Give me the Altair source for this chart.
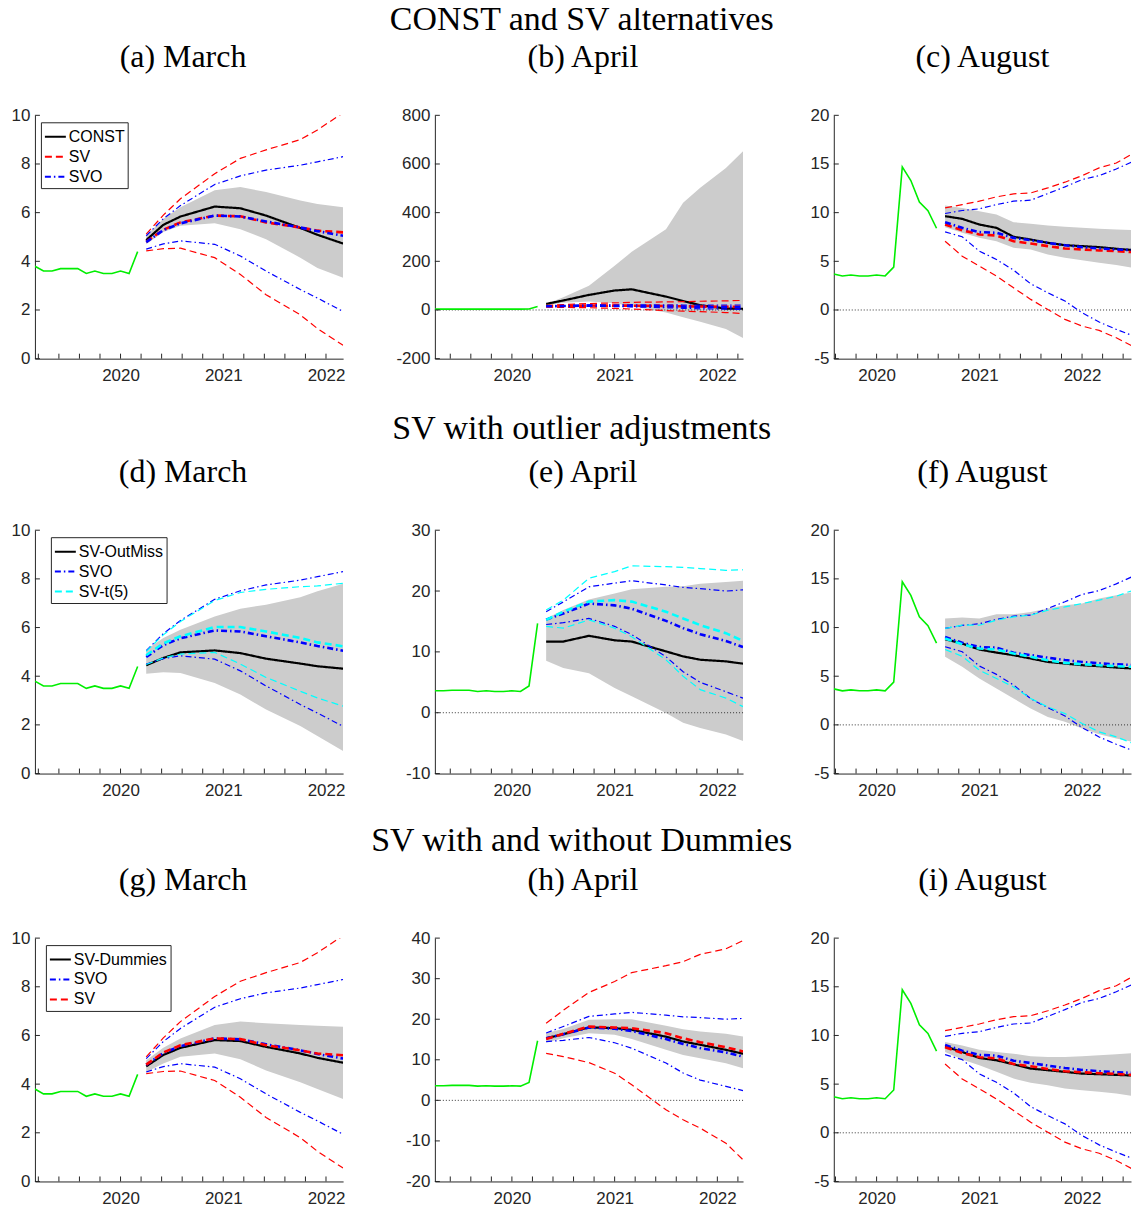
import altair as alt
import pandas as pd
import numpy as np

# ---------------- data ----------------
HIST_START = 2019 + 2 / 12          # March 2019
hist_u = [3.8, 3.6, 3.6, 3.7, 3.7, 3.7, 3.5, 3.6, 3.5, 3.5, 3.6, 3.5, 4.4,
          14.7, 13.3, 11.1, 10.2, 8.4]   # Mar 2019 .. Aug 2020

vintage_mar = 2020 + 2 / 12
vintage_apr = 2020 + 3 / 12
vintage_aug = 2020 + 7 / 12

k_mar = [0, 2, 4, 8, 11, 14, 18, 20, 23]
k_apr = [0, 2, 5, 8, 10, 14, 16, 18, 21, 23]
k_aug = [0, 2, 4, 6, 8, 10, 12, 14, 16, 18, 20, 22, 23]

# ---- March vintage ----
mar_const_med = [4.87, 5.5, 5.84, 6.25, 6.18, 5.88, 5.37, 5.09, 4.73]
mar_const_hi = [5.05, 5.75, 6.22, 6.92, 7.05, 6.85, 6.5, 6.36, 6.22]
mar_const_lo = [4.70, 5.2, 5.46, 5.56, 5.32, 4.91, 4.15, 3.73, 3.32]
mar_sv_med = [4.8, 5.3, 5.6, 5.88, 5.85, 5.6, 5.39, 5.26, 5.19]
mar_sv_hi = [5.12, 5.9, 6.57, 7.6, 8.23, 8.58, 9.0, 9.4, 10.1]
mar_sv_lo = [4.43, 4.52, 4.54, 4.15, 3.46, 2.63, 1.8, 1.24, 0.55]
mar_svo_med = [4.79, 5.28, 5.56, 5.88, 5.84, 5.64, 5.39, 5.24, 5.05]
mar_svo_hi = [5.05, 5.75, 6.29, 7.16, 7.51, 7.75, 7.95, 8.09, 8.3]
mar_svo_lo = [4.5, 4.72, 4.84, 4.70, 4.22, 3.6, 2.84, 2.49, 1.94]
mar_om_med = [4.45, 4.75, 4.98, 5.06, 4.95, 4.72, 4.52, 4.41, 4.31]
mar_om_hi = [5.09, 5.57, 5.91, 6.45, 6.77, 6.94, 7.25, 7.49, 7.8]
mar_om_lo = [4.1, 4.16, 4.13, 3.72, 3.25, 2.63, 1.95, 1.54, 0.93]
mar_t5_med = [4.86, 5.35, 5.64, 6.02, 6.02, 5.84, 5.57, 5.39, 5.23]
mar_t5_hi = [5.02, 5.7, 6.25, 7.11, 7.44, 7.57, 7.68, 7.71, 7.82]
mar_t5_lo = [4.48, 4.75, 4.91, 4.98, 4.5, 3.95, 3.38, 3.11, 2.77]
mar_dum_med = [4.73, 5.2, 5.49, 5.81, 5.77, 5.53, 5.26, 5.08, 4.88]
mar_dum_hi = [4.98, 5.5, 5.88, 6.43, 6.57, 6.5, 6.43, 6.4, 6.36]
mar_dum_lo = [4.5, 4.85, 5.12, 5.26, 5.02, 4.56, 4.08, 3.8, 3.39]

# ---- April vintage ----
apr_const_med = [25, 39, 62, 80, 85, 55, 37, 19.6, 6, 5]
apr_const_hi = [25, 52, 100, 182, 239, 332, 441, 502, 584, 652]
apr_const_lo = [18, 30, 35, 28, 15, -10, -30, -48, -78, -115]
apr_sv_med = [15.1, 16.4, 18.2, 17.96, 17.8, 16.57, 15.3, 14.35, 13.1, 12.05]
apr_sv_hi = [19.0, 22.2, 26.6, 29.3, 31.5, 33.2, 34.2, 36.0, 37.35, 39.4]
apr_sv_lo = [11.6, 10.8, 9.3, 6.7, 3.83, -2.33, -4.8, -6.85, -10.55, -14.66]
apr_svo_med = [15.3, 16.3, 17.95, 17.65, 17.1, 15.1, 13.9, 12.9, 11.8, 10.8]
apr_svo_hi = [16.6, 18.2, 20.7, 21.3, 21.7, 21.0, 20.6, 20.4, 20.0, 20.2]
apr_svo_lo = [14.5, 14.8, 15.5, 14.2, 12.85, 9.2, 6.75, 5.0, 3.45, 2.4]
apr_om_med = [11.7, 11.7, 12.64, 11.9, 11.7, 10.08, 9.26, 8.71, 8.44, 8.06]
apr_om_hi = [15.5, 16.9, 18.6, 19.6, 20.3, 20.7, 20.8, 21.2, 21.5, 21.7]
apr_om_lo = [8.55, 7.35, 6.5, 4.07, 2.7, -0.03, -1.65, -2.5, -3.56, -4.65]
apr_t5_med = [15.26, 16.6, 18.26, 18.5, 18.26, 16.6, 15.5, 14.4, 13.08, 11.8]
apr_t5_hi = [16.9, 18.5, 22.1, 23.2, 24.15, 24.0, 23.9, 23.7, 23.4, 23.5]
apr_t5_lo = [14.2, 13.9, 15.26, 13.9, 12.5, 8.7, 6.0, 3.8, 2.4, 1.0]
apr_dum_med = [15.3, 16.3, 18.0, 17.8, 17.4, 15.7, 14.5, 13.7, 12.46, 11.5]
apr_dum_hi = [16.6, 17.6, 19.85, 20.0, 20.0, 18.4, 17.55, 17.0, 16.4, 15.74]
apr_dum_lo = [14.26, 15.3, 16.57, 16.16, 15.1, 12.5, 11.2, 10.4, 9.17, 7.9]

# ---- August vintage ----
aug_const_med = [9.64, 9.36, 8.78, 8.44, 7.52, 7.24, 6.9, 6.66, 6.56, 6.46, 6.29, 6.15, 6.05]
aug_const_hi = [10.73, 10.49, 10.15, 9.81, 9.02, 8.85, 8.68, 8.54, 8.44, 8.34, 8.27, 8.2, 8.2]
aug_const_lo = [8.5, 7.93, 7.41, 7.07, 6.39, 6.22, 5.7, 5.36, 5.12, 4.85, 4.61, 4.34, 4.1]
aug_sv_med = [8.78, 8.2, 7.76, 7.65, 7.07, 6.83, 6.56, 6.32, 6.22, 6.12, 6.05, 5.94, 5.94]
aug_sv_hi = [10.49, 10.83, 11.18, 11.62, 11.93, 12.03, 12.54, 13.13, 13.8, 14.6, 15.1, 16.1, 16.65]
aug_sv_lo = [7.07, 5.53, 4.51, 3.48, 2.28, 1.09, 0.06, -0.96, -1.65, -2.1, -2.85, -3.77, -4.38]
aug_svo_med = [9.02, 8.44, 8.0, 7.93, 7.41, 7.17, 6.9, 6.66, 6.46, 6.32, 6.22, 6.15, 6.22]
aug_svo_hi = [9.91, 10.22, 10.39, 10.83, 11.18, 11.28, 11.96, 12.65, 13.4, 13.8, 14.49, 15.28, 16.1]
aug_svo_lo = [8.03, 7.52, 6.05, 5.19, 4.1, 2.69, 1.77, 0.92, -0.28, -1.24, -1.99, -2.67, -3.02]
aug_om_med = [8.8, 8.36, 7.74, 7.43, 7.16, 6.82, 6.47, 6.3, 6.13, 6.03, 5.89, 5.79, 5.72]
aug_om_hi = [10.92, 11.03, 10.92, 11.37, 11.37, 11.61, 11.95, 12.29, 12.47, 12.98, 13.32, 13.66, 13.84]
aug_om_lo = [6.99, 5.96, 4.76, 3.73, 2.71, 1.68, 0.82, 0.31, -0.38, -0.96, -1.4, -1.75, -1.92]
aug_t5_med = [8.87, 8.29, 7.84, 7.74, 7.33, 6.99, 6.64, 6.37, 6.23, 6.13, 6.03, 5.96, 5.89]
aug_t5_hi = [9.9, 10.24, 10.24, 10.75, 11.1, 11.27, 11.78, 12.12, 12.47, 12.81, 13.22, 13.84, 14.25]
aug_t5_lo = [7.74, 7.05, 5.62, 4.76, 3.9, 2.71, 1.85, 1.16, 0.14, -0.72, -1.23, -1.92, -2.43]
aug_dum_med = [8.88, 8.3, 7.69, 7.45, 7.04, 6.6, 6.43, 6.26, 6.08, 6.02, 5.95, 5.88, 5.88]
aug_dum_hi = [9.32, 8.98, 8.54, 8.3, 8.13, 7.86, 7.79, 7.79, 7.86, 7.96, 8.06, 8.2, 8.27]
aug_dum_lo = [8.3, 7.52, 6.94, 6.26, 5.57, 5.13, 4.89, 4.55, 4.38, 4.21, 4.04, 3.77, 3.63]

row_titles = ["CONST and SV alternatives", "SV with outlier adjustments",
              "SV with and without Dummies"]
panel_titles = ["(a) March", "(b) April", "(c) August",
                "(d) March", "(e) April", "(f) August",
                "(g) March", "(h) April", "(i) August"]

STYLE = {
    "CONST": ("#000000", [1, 0]),
    "SV-OutMiss": ("#000000", [1, 0]),
    "SV-Dummies": ("#000000", [1, 0]),
    "SV": ("#ff0000", [7, 4]),
    "SVO": ("#0000ff", [6, 3, 1.5, 3]),
    "SV-t(5)": ("#00ffff", [7, 4]),
}

# ---------------- layout ----------------
H = 244
W12 = 309
W3 = 298          # right column is cut by the page edge, as in the original
PXY = 103.0       # pixels per year
AX_COL = "#262626"
SANS = "Liberation Sans"
SERIF = "Liberation Serif"


def panel(title, vintage, knots, main, others, ydom, yticks, col, legend_xy=None):
    x0 = vintage + 1 / 12
    xs = [x0 + k / 12 for k in knots]
    width = W3 if col == 2 else W12
    xdom = [vintage - 1, vintage - 1 + width / PXY]

    main_name, main_med, main_lo, main_hi = main
    band_df = pd.DataFrame({"x": xs, "lo": main_lo, "hi": main_hi})

    rows = []
    for i, x in enumerate(xs):
        rows.append(dict(x=x, y=main_med[i], series=main_name, key=main_name + "_m", w=2.2))
    for name, med, lo, hi in others:
        for i, x in enumerate(xs):
            rows.append(dict(x=x, y=lo[i], series=name, key=name + "_lo", w=1.2))
            rows.append(dict(x=x, y=hi[i], series=name, key=name + "_hi", w=1.2))
    for name, med, lo, hi in others:
        for i, x in enumerate(xs):
            rows.append(dict(x=x, y=med[i], series=name, key=name + "_m", w=2.6))
    line_df = pd.DataFrame(rows)

    hx = [HIST_START + i / 12 for i in range(len(hist_u))]
    hist_df = pd.DataFrame({"x": hx, "y": hist_u})
    hist_df = hist_df[(hist_df.x >= xdom[0] - 1e-6) & (hist_df.x <= vintage + 1e-6)]

    names = [main_name] + [o[0] for o in others]
    colors = [STYLE[n][0] for n in names]
    dashes = [STYLE[n][1] for n in names]

    xscale = alt.Scale(domain=xdom, nice=False, zero=False)
    yscale = alt.Scale(domain=ydom, nice=False, zero=False)
    xaxis = alt.Axis(values=[2020, 2021, 2022], format="d", title=None, grid=False,
                     ticks=False, tickSize=0, labelPadding=9, labelFont=SANS,
                     labelFontSize=17, labelColor=AX_COL, domainColor=AX_COL,
                     domainWidth=1, labelFlush=False, labelOverlap=False)
    ext = 27 if col == 0 else 80
    yaxis = alt.Axis(values=yticks, labelExpr="'' + datum.value", title=None, grid=False,
                     ticks=False, tickSize=0, labelPadding=5, labelFont=SANS,
                     labelFontSize=17, labelColor=AX_COL, domainColor=AX_COL,
                     domainWidth=1, minExtent=ext, maxExtent=ext,
                     labelFlush=False, labelOverlap=False)

    X = lambda f: alt.X(f, scale=xscale, axis=xaxis)
    Y = lambda f: alt.Y(f, scale=yscale, axis=yaxis)

    band = alt.Chart(band_df).mark_area(color="#cccccc", opacity=1, clip=True).encode(
        x=X("x:Q"), y=Y("lo:Q"), y2="hi:Q")

    layers = [band]
    if ydom[0] < 0:
        zero = alt.Chart(pd.DataFrame({"z": [0]})).mark_rule(
            color="#333333", strokeDash=[1, 2], strokeWidth=1).encode(y=Y("z:Q"))
        layers.append(zero)

    hist = alt.Chart(hist_df).mark_line(color="#00ee00", strokeWidth=1.6, clip=True).encode(
        x=X("x:Q"), y=Y("y:Q"))
    layers.append(hist)

    if legend_xy is not None:
        leg = alt.Legend(orient="none", legendX=legend_xy[0], legendY=legend_xy[1],
                         title=None, symbolType="stroke", symbolSize=441,
                         symbolStrokeWidth=2, labelFont=SANS, labelFontSize=16,
                         labelColor="black", strokeColor=AX_COL, fillColor="white",
                         padding=3, rowPadding=0, labelOffset=2, cornerRadius=0)
    else:
        leg = None

    lines = alt.Chart(line_df).mark_line(clip=True).encode(
        x=X("x:Q"), y=Y("y:Q"),
        color=alt.Color("series:N", scale=alt.Scale(domain=names, range=colors), legend=leg),
        strokeDash=alt.StrokeDash("series:N", scale=alt.Scale(domain=names, range=dashes),
                                  legend=leg),
        strokeWidth=alt.StrokeWidth("w:Q", scale=None),
        detail="key:N",
    )
    layers.append(lines)

    # inward ticks (MATLAB style)
    xt = [v for v in np.round(np.arange(2019.0, 2023.0, 0.2), 1) if xdom[0] <= v <= xdom[1]]
    xtick = alt.Chart(pd.DataFrame({"v": xt})).mark_rule(color=AX_COL, strokeWidth=1).encode(
        x=X("v:Q"), y=alt.value(H), y2=alt.value(H - 5))
    ytick = alt.Chart(pd.DataFrame({"v": yticks})).mark_rule(color=AX_COL, strokeWidth=1).encode(
        y=Y("v:Q"), x=alt.value(0), x2=alt.value(5))
    layers += [xtick, ytick]

    tdx = 0 if col == 2 else -6
    return alt.layer(*layers).properties(
        width=width, height=H,
        title=alt.TitleParams(title, font=SERIF, fontSize=32, fontWeight="normal",
                              color="black", offset=32, frame="group", dx=tdx,
                              anchor="middle"))


t10 = [0, 2, 4, 6, 8, 10]
t_aug = [-5, 0, 5, 10, 15, 20]

p = []
# row 1
p.append(panel(panel_titles[0], vintage_mar, k_mar,
               ("CONST", mar_const_med, mar_const_lo, mar_const_hi),
               [("SV", mar_sv_med, mar_sv_lo, mar_sv_hi),
                ("SVO", mar_svo_med, mar_svo_lo, mar_svo_hi)],
               [0, 10], t10, 0, legend_xy=(6, 7)))
p.append(panel(panel_titles[1], vintage_apr, k_apr,
               ("CONST", apr_const_med, apr_const_lo, apr_const_hi),
               [("SV", apr_sv_med, apr_sv_lo, apr_sv_hi),
                ("SVO", apr_svo_med, apr_svo_lo, apr_svo_hi)],
               [-200, 800], [-200, 0, 200, 400, 600, 800], 1))
p.append(panel(panel_titles[2], vintage_aug, k_aug,
               ("CONST", aug_const_med, aug_const_lo, aug_const_hi),
               [("SV", aug_sv_med, aug_sv_lo, aug_sv_hi),
                ("SVO", aug_svo_med, aug_svo_lo, aug_svo_hi)],
               [-5, 20], t_aug, 2))
# row 2
p.append(panel(panel_titles[3], vintage_mar, k_mar,
               ("SV-OutMiss", mar_om_med, mar_om_lo, mar_om_hi),
               [("SVO", mar_svo_med, mar_svo_lo, mar_svo_hi),
                ("SV-t(5)", mar_t5_med, mar_t5_lo, mar_t5_hi)],
               [0, 10], t10, 0, legend_xy=(16, 7)))
p.append(panel(panel_titles[4], vintage_apr, k_apr,
               ("SV-OutMiss", apr_om_med, apr_om_lo, apr_om_hi),
               [("SVO", apr_svo_med, apr_svo_lo, apr_svo_hi),
                ("SV-t(5)", apr_t5_med, apr_t5_lo, apr_t5_hi)],
               [-10, 30], [-10, 0, 10, 20, 30], 1))
p.append(panel(panel_titles[5], vintage_aug, k_aug,
               ("SV-OutMiss", aug_om_med, aug_om_lo, aug_om_hi),
               [("SVO", aug_svo_med, aug_svo_lo, aug_svo_hi),
                ("SV-t(5)", aug_t5_med, aug_t5_lo, aug_t5_hi)],
               [-5, 20], t_aug, 2))
# row 3
p.append(panel(panel_titles[6], vintage_mar, k_mar,
               ("SV-Dummies", mar_dum_med, mar_dum_lo, mar_dum_hi),
               [("SVO", mar_svo_med, mar_svo_lo, mar_svo_hi),
                ("SV", mar_sv_med, mar_sv_lo, mar_sv_hi)],
               [0, 10], t10, 0, legend_xy=(11, 7)))
p.append(panel(panel_titles[7], vintage_apr, k_apr,
               ("SV-Dummies", apr_dum_med, apr_dum_lo, apr_dum_hi),
               [("SVO", apr_svo_med, apr_svo_lo, apr_svo_hi),
                ("SV", apr_sv_med, apr_sv_lo, apr_sv_hi)],
               [-20, 40], [-20, -10, 0, 10, 20, 30, 40], 1))
p.append(panel(panel_titles[8], vintage_aug, k_aug,
               ("SV-Dummies", aug_dum_med, aug_dum_lo, aug_dum_hi),
               [("SVO", aug_svo_med, aug_svo_lo, aug_svo_hi),
                ("SV", aug_sv_med, aug_sv_lo, aug_sv_hi)],
               [-5, 20], t_aug, 2))

RES = dict(color="independent", strokeDash="independent", x="independent", y="independent")
LRES = dict(color="independent", strokeDash="independent")

row_offsets = [5, 10, 6]
rows = []
for r in range(3):
    row = alt.hconcat(*p[3 * r:3 * r + 3], spacing=10,
                      title=alt.TitleParams(row_titles[r], font=SERIF, fontSize=34,
                                            fontWeight="normal", color="black",
                                            offset=row_offsets[r], dx=12, anchor="middle"))
    rows.append(row.resolve_scale(**RES).resolve_legend(**LRES))

lower = alt.vconcat(rows[1], rows[2], spacing=26).resolve_scale(**RES).resolve_legend(**LRES)
chart = alt.vconcat(rows[0], lower, spacing=29).resolve_scale(**RES).resolve_legend(
    **LRES).properties(
    padding={"top": -7, "bottom": 0, "left": 0, "right": 0}
).configure_view(stroke=None)

chart.save("out.html", embed_options={"renderer": "svg", "actions": False})
